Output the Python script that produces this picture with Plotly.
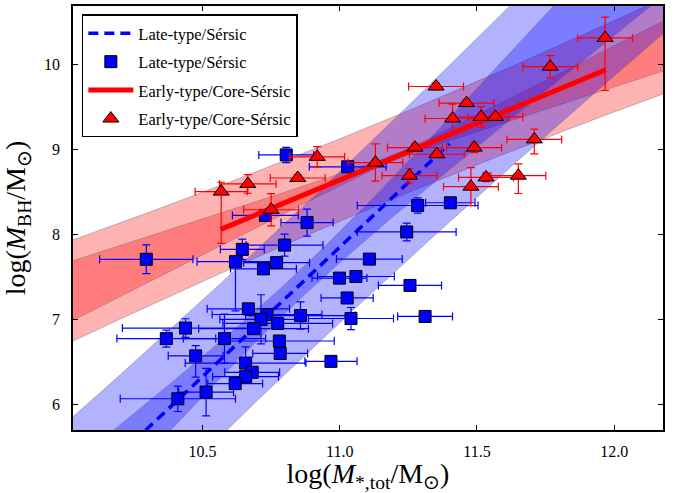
import numpy as np
import plotly.graph_objects as go

# ---------------- data ----------------
# Late-type / Sersic (blue squares)
late_x = [10.805, 11.029, 10.729, 10.881, 10.645, 10.799, 10.295, 10.620, 10.722, 10.770,
          10.667, 10.735, 10.713, 10.774, 10.686, 10.438, 10.368, 10.580, 10.780, 10.783,
          10.475, 10.657, 10.681, 10.657, 10.619, 10.513, 10.410, 10.857, 10.999, 11.059,
          11.108, 11.027, 11.041, 10.968, 11.256, 11.311, 11.284, 11.403, 11.244]
late_y = [8.938, 8.798, 8.225, 8.140, 7.825, 7.875, 7.708, 7.680, 7.595, 7.668,
          7.124, 7.057, 7.000, 6.952, 6.890, 6.897, 6.773, 6.773, 6.745, 6.598,
          6.570, 6.485, 6.376, 6.325, 6.243, 6.143, 6.064, 7.045, 7.486, 7.505,
          7.710, 7.252, 7.010, 6.505, 7.400, 7.034, 8.342, 8.374, 8.030]
late_xerr = [0.10, 0.14, 0.12, 0.095, 0.08, 0.14, 0.17, 0.14, 0.12, 0.12,
             0.15, 0.20, 0.15, 0.20, 0.20, 0.23, 0.18, 0.15, 0.20, 0.10,
             0.10, 0.22, 0.10, 0.12, 0.10, 0.10, 0.21, 0.20, 0.10, 0.14,
             0.12, 0.095, 0.155, 0.095, 0.115, 0.10, 0.22, 0.09, 0.18]
late_yerr_up = [0.09, 0.05, 0.05, 0.16, 0.12, 0.13, 0.17, 0.05, 0.05, 0.05,
                0.05, 0.05, 0.29, 0.05, 0.05, 0.11, 0.10, 0.29, 0.05, 0.05,
                0.12, 0.19, 0.05, 0.05, 0.05, 0.28, 0.15, 0.16, 0.05, 0.05,
                0.05, 0.05, 0.13, 0.05, 0.05, 0.05, 0.09, 0.05, 0.105]
late_yerr_dn = [0.09, 0.05, 0.05, 0.16, 0.12, 0.13, 0.17, 0.58, 0.05, 0.05,
                0.05, 0.05, 0.29, 0.05, 0.05, 0.11, 0.10, 0.29, 0.05, 0.05,
                0.25, 0.19, 0.05, 0.05, 0.05, 0.28, 0.15, 0.16, 0.05, 0.05,
                0.05, 0.05, 0.13, 0.05, 0.05, 0.05, 0.09, 0.05, 0.105]

# Early-type / Core-Sersic (red triangles)
early_x = [10.568, 10.665, 10.750, 10.847, 10.918, 11.967, 11.767, 11.351, 11.462, 11.411,
           11.515, 11.567, 11.274, 11.354, 11.490, 11.130, 11.254, 11.709, 11.478, 11.533,
           11.651]
early_y = [8.506, 8.596, 8.292, 8.666, 8.915, 10.317, 9.978, 9.744, 9.549, 9.367,
           9.386, 9.386, 9.024, 8.946, 9.024, 8.848, 8.693, 9.121, 8.564, 8.673,
           8.693]
early_xerr = [0.095, 0.103, 0.10, 0.10, 0.10, 0.10, 0.10, 0.10, 0.10, 0.10,
              0.10, 0.10, 0.10, 0.10, 0.10, 0.10, 0.10, 0.10, 0.10, 0.10,
              0.10]
early_yerr_up = [0.11, 0.11, 0.19, 0.04, 0.12, 0.245, 0.13, 0.04, 0.04, 0.17,
                 0.12, 0.04, 0.04, 0.04, 0.06, 0.22, 0.085, 0.12, 0.225, 0.05,
                 0.14]
early_yerr_dn = [0.61, 0.11, 0.19, 0.04, 0.12, 0.62, 0.13, 0.04, 0.04, 0.17,
                 0.12, 0.04, 0.04, 0.04, 0.06, 0.22, 0.085, 0.17, 0.225, 0.05,
                 0.21]

# fit parameters: y = a + b (x - x0); dark band = fit uncertainty, light = + rms scatter
late_fit = dict(a=7.393, b=3.05, x0=10.85, sig_a=0.17, sig_b=0.46, scatter=0.87, xr=[10.25, 11.40])
early_fit = dict(a=8.91, b=1.34, x0=11.20, sig_a=0.035, sig_b=0.298, scatter=0.48, xr=[10.566, 11.97])

x_ticks = [10.5, 11.0, 11.5, 12.0]
x_tick_text = ["10.5", "11.0", "11.5", "12.0"]
y_ticks = [6, 7, 8, 9, 10]
x_range = [10.028, 12.178]
y_range = [5.696, 10.693]

SERIF = "Liberation Serif, Times New Roman, serif"
fig = go.Figure()

grid = np.linspace(9.9, 12.3, 241)


def add_bands(fit, rgb):
    d = grid - fit["x0"]
    yc = fit["a"] + fit["b"] * d
    hw_dark = np.sqrt(fit["sig_a"] ** 2 + (fit["sig_b"] * d) ** 2)
    hw_light = np.sqrt(hw_dark ** 2 + fit["scatter"] ** 2)
    for hw in (hw_light, hw_dark):
        fig.add_trace(go.Scatter(
            x=np.concatenate([grid, grid[::-1]]),
            y=np.concatenate([yc + hw, (yc - hw)[::-1]]),
            fill="toself", fillcolor=f"rgba({rgb},0.3)",
            line=dict(color="rgba(110,110,110,0.55)", width=0.8),
            mode="lines", showlegend=False, hoverinfo="skip", legendgroup="bands"))


add_bands(early_fit, "255,0,0")
add_bands(late_fit, "0,0,255")


def fit_line(fit):
    xs = np.array(fit["xr"])
    return xs, fit["a"] + fit["b"] * (xs - fit["x0"])


lx, ly = fit_line(late_fit)
fig.add_trace(go.Scatter(x=lx, y=ly, mode="lines", name="Late-type/Sérsic", legendgroup="g1",
                         line=dict(color="#0000ff", width=3.5, dash="10px,6px")))
fig.add_trace(go.Scatter(
    x=late_x, y=late_y, mode="markers", name="Late-type/Sérsic", legendgroup="g2",
    marker=dict(symbol="square", size=12, color="#0000ff", line=dict(color="black", width=1)),
    error_x=dict(type="data", array=late_xerr, color="#0000ff", thickness=1.2, width=4),
    error_y=dict(type="data", array=late_yerr_up, arrayminus=late_yerr_dn, color="#0000ff",
                 thickness=1.2, width=4)))

ex, ey = fit_line(early_fit)
fig.add_trace(go.Scatter(x=ex, y=ey, mode="lines", name="Early-type/Core-Sérsic", legendgroup="g3",
                         line=dict(color="#ff0000", width=5)))
fig.add_trace(go.Scatter(
    x=early_x, y=early_y, mode="markers", name="Early-type/Core-Sérsic", legendgroup="g4",
    marker=dict(symbol="triangle-up", size=14, color="#ff0000", line=dict(color="black", width=1)),
    error_x=dict(type="data", array=early_xerr, color="#ff0000", thickness=1.2, width=4),
    error_y=dict(type="data", array=early_yerr_up, arrayminus=early_yerr_dn, color="#ff0000",
                 thickness=1.2, width=4)))

axis_common = dict(showgrid=False, zeroline=False, showline=True, linecolor="black", linewidth=1.5,
                   mirror="allticks", ticks="inside", ticklen=5, tickwidth=1.2, tickcolor="black",
                   tickfont=dict(family=SERIF, size=16, color="black"))

fig.update_xaxes(range=x_range, tickvals=x_ticks, ticktext=x_tick_text,
                 title=dict(text="log(<i>M</i><sub>*,tot</sub>/M<sub>⊙</sub>)",
                            font=dict(family=SERIF, size=28, color="black"), standoff=9),
                 ticklabelstandoff=6, **axis_common)
fig.update_yaxes(range=y_range, tickvals=y_ticks,
                 title=dict(text="log(<i>M</i><sub>BH</sub>/M<sub>⊙</sub>)",
                            font=dict(family=SERIF, size=28, color="black"), standoff=10),
                 ticklabelstandoff=8, **axis_common)

fig.update_layout(
    width=685, height=493,
    margin=dict(l=73, r=22, t=4, b=61),
    paper_bgcolor="white", plot_bgcolor="white",
    legend=dict(x=0.015, y=0.98, xanchor="left", yanchor="top",
                bgcolor="white", bordercolor="black", borderwidth=1.5,
                font=dict(family=SERIF, size=16.5, color="black"), itemwidth=45,
                traceorder="grouped", tracegroupgap=4),
)

fig.write_html("out.html")
